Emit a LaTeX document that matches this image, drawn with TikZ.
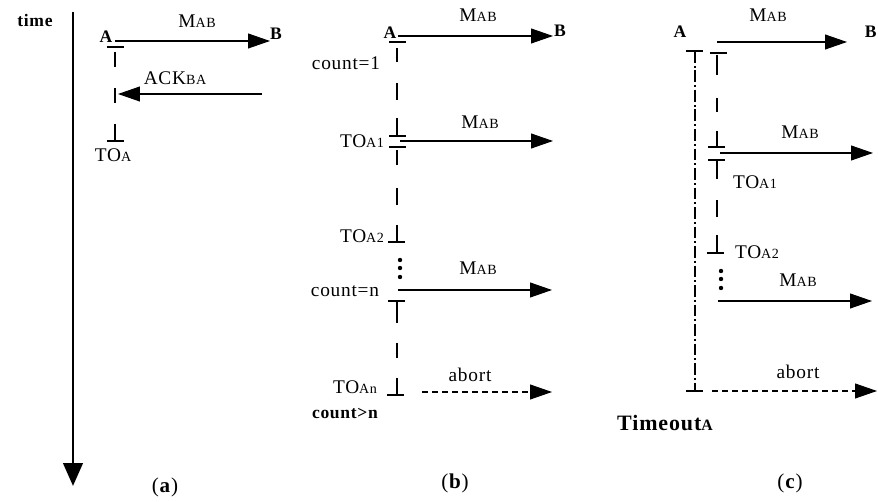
\documentclass[tikz,border=0pt]{standalone}
\usepackage{fontspec}
\setmainfont[LetterSpace=4]{Liberation Serif}
\usetikzlibrary{arrows.meta}
% small capitals after M, TO, ACK ...
\newcommand{\smc}[1]{{\fontsize{8}{8}\selectfont #1}}

\begin{document}
\begin{tikzpicture}[x=0.02cm,y=-0.02cm,
  font=\fontsize{11}{13}\selectfont,
  msg/.style={line width=.6pt,-{Triangle[length=12.5pt,width=8.5pt]}},
  lost/.style={msg,dash pattern=on 3.4pt off 2.3pt},
  life/.style={line width=.8pt},
  bar/.style={line width=1pt},
  timer/.style={line width=.8pt,dash pattern=on 6.8pt off 1.7pt on .9pt off 1.7pt},
  panel/.style={font=\fontsize{12}{14}\selectfont}]
\useasboundingbox (0,0) rectangle (878,502);

% time axis:
\draw[line width=1.7pt,-{Triangle[length=13pt,width=11pt]}] (73,12) -- (73,486);
\node[font=\bfseries] (time) at (35,20) {time};

% (a):
\node[font=\bfseries] (Aa) at (106,37) {A};
\node[font=\bfseries] (Ba) at (276,34) {B};
\coordinate (a0) at (115,41);
\coordinate (a1) at (270,41);
\draw[msg] (a0) -- (a1);
\node (ma) at (197,21) {M\smc{AB}};
\draw[bar] (107,47) -- (124,47);
\foreach \ya/\yb in {52/67, 88/103, 124/141}
  \draw[life] (115,\ya) -- (115,\yb);
\draw[bar] (107,141) -- (124,141);
\node (toa) at (113,155) {TO\smc{A}};
\coordinate (k0) at (262,94);
\coordinate (k1) at (118,94);
\draw[msg] (k0) -- (k1);
\node (ack) at (175,78) {ACK\smc{BA}};
\node[panel] (capa) at (165,487) {(\textbf{a})};

% (b):
\node[font=\bfseries] (Ab) at (390,33) {A};
\node[font=\bfseries] (Bb) at (560,31) {B};
\coordinate (b0) at (398,36);
\coordinate (b1) at (553,36);
\draw[msg] (b0) -- (b1);
\node (mb0) at (478,15) {M\smc{AB}};
\node (cnt1) at (346,63) {count=1};
\draw[bar] (389,42) -- (406,42);
\foreach \ya/\yb in {48/62, 83/100, 118/136, 150/165, 188/205, 225/242, 302/323, 343/358, 378/395}
  \draw[life] (397,\ya) -- (397,\yb);
\draw[bar] (389,136) -- (406,136);
\draw[bar] (389,147) -- (406,147);
\node (tob1) at (362,141) {TO\smc{A1}};
\coordinate (b2) at (400,141);
\coordinate (b3) at (553,141);
\draw[msg] (b2) -- (b3);
\node (mb1) at (480,122) {M\smc{AB}};
\draw[bar] (388,242) -- (405,242);
\node (tob2) at (362,236) {TO\smc{A2}};
\foreach \y in {260,268,277}
  \fill (400,\y) circle (2.2);
\node (cntn) at (345,291) {count=n};
\coordinate (b4) at (398,290);
\coordinate (b5) at (552,290);
\draw[msg] (b4) -- (b5);
\node (mb2) at (478,268) {M\smc{AB}};
\draw[bar] (388,301) -- (405,301);
\draw[bar] (387,395) -- (404,395);
\node (tobn) at (355,387) {TO\smc{An}};
\node[font=\bfseries] (over) at (345,413) {count>n};
\coordinate (b6) at (422,392);
\coordinate (b7) at (552,392);
\draw[lost] (b6) -- (b7);
\node (abb) at (470,375) {abort};
\node[panel] (capb) at (455,483) {(\textbf{b})};

% (c):
\node[font=\bfseries] (Ac) at (680,32) {A};
\node[font=\bfseries,anchor=east,inner sep=0pt] (Bc) at (877,32) {B};
\coordinate (c0) at (717,42);
\coordinate (c1) at (847,42);
\draw[msg] (c0) -- (c1);
\node (mc0) at (768,15) {M\smc{AB}};
% timer of A
\draw[bar] (686,51) -- (703,51);
\draw[timer] (695,51) -- (695,391);
\draw[bar] (686,391) -- (703,391);
\node[font=\fontsize{12.5}{14}\selectfont\bfseries] (tmo) at (665,423) {Timeout{\fontsize{9}{9}\selectfont A}};
% retries
\draw[bar] (710,53) -- (727,53);
\foreach \ya/\yb in {55/75, 98/112, 131/147, 160/179, 200/217, 235/253}
  \draw[life] (717,\ya) -- (717,\yb);
\draw[bar] (708,147) -- (725,147);
\coordinate (c2) at (720,153);
\coordinate (c3) at (873,153);
\draw[msg] (c2) -- (c3);
\node (mc1) at (800,132) {M\smc{AB}};
\draw[bar] (708,160) -- (725,160);
\node (toc1) at (755,182) {TO\smc{A1}};
\draw[bar] (707,253) -- (724,253);
\node (toc2) at (757,252) {TO\smc{A2}};
\foreach \y in {271,279,288}
  \fill (721,\y) circle (2.2);
\coordinate (c4) at (718,301);
\coordinate (c5) at (872,301);
\draw[msg] (c4) -- (c5);
\node (mc2) at (798,280) {M\smc{AB}};
\coordinate (c6) at (712,391);
\coordinate (c7) at (877,391);
\draw[lost] (c6) -- (c7);
\node (abc) at (798,372) {abort};
\node[panel] (capc) at (790,483) {(\textbf{c})};
\end{tikzpicture}
\end{document}
